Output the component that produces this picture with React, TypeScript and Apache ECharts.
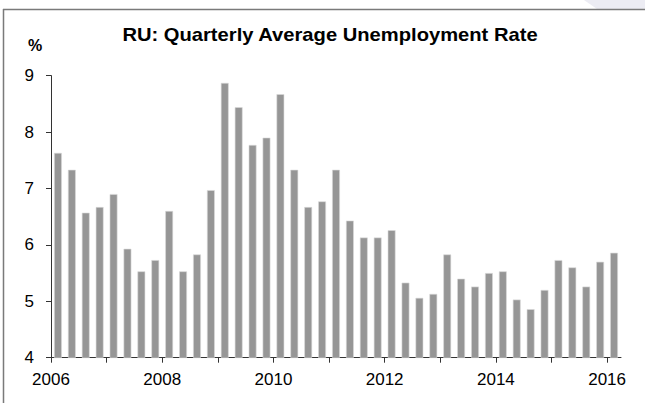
import React, { useEffect, useRef } from "react";
import * as echarts from "echarts";

const quarters: string[] = [];
const years = [2006, 2007, 2008, 2009, 2010, 2011, 2012, 2013, 2014, 2015, 2016];
years.forEach((y) => {
  ["Q1", "Q2", "Q3", "Q4"].forEach((q) => {
    if (y < 2016 || q === "Q1") quarters.push(`${y}${q}`);
  });
});
const labelYears = [2006, 2008, 2010, 2012, 2014, 2016];

const unemployment = [
  7.63, 7.33, 6.57, 6.67,
  6.9, 5.93, 5.53, 5.73,
  6.6, 5.53, 5.83, 6.97,
  8.87, 8.44, 7.77, 7.9,
  8.67, 7.33, 6.67, 6.77,
  7.33, 6.43, 6.13, 6.13,
  6.26, 5.33, 5.06, 5.13,
  5.83, 5.4, 5.26, 5.5,
  5.53, 5.03, 4.86, 5.2,
  5.73, 5.6, 5.26, 5.7,
  5.86,
];

const yTicks = [4, 5, 6, 7, 8, 9];
const titleText = "RU: Quarterly Average Unemployment Rate";
const unitText = "%";

export default function App() {
  const ref = useRef<HTMLDivElement>(null);
  useEffect(() => {
    if (!ref.current) return;
    const chart = echarts.init(ref.current, null, { renderer: "svg" });
    const font = "'Liberation Sans', Arial, sans-serif";
    chart.setOption({
      animation: false,
      backgroundColor: "#ffffff",
      textStyle: { fontFamily: font },
      grid: { left: 51, right: 24, top: 75.6, bottom: 45.3, containLabel: false },
      xAxis: [
        {
          type: "category",
          data: quarters,
          boundaryGap: true,
          show: false,
        },
        {
          type: "value",
          min: years[0],
          max: years[years.length - 1] + 0.25,
          position: "bottom",
          axisLine: { show: true, onZero: false, lineStyle: { color: "#333333", width: 1 } },
          axisTick: { show: true, length: 5, customValues: years, lineStyle: { color: "#333333" } },
          axisLabel: {
            customValues: labelYears,
            formatter: (v: number) => String(v),
            color: "#000000",
            fontSize: 17,
            margin: 13,
            fontFamily: font,
          },
          splitLine: { show: false },
        },
      ],
      yAxis: {
        type: "value",
        min: yTicks[0],
        max: yTicks[yTicks.length - 1],
        interval: 1,
        axisLine: { show: true, lineStyle: { color: "#333333", width: 1 } },
        axisTick: { show: true, length: 5, lineStyle: { color: "#333333" } },
        axisLabel: { color: "#000000", fontSize: 17, margin: 17, fontFamily: font },
        splitLine: { show: false },
      },
      series: [
        {
          type: "bar",
          xAxisIndex: 0,
          data: unemployment,
          barWidth: "56%",
          itemStyle: { color: "#969696", borderColor: "#dadada", borderWidth: 0.6 },
        },
      ],
      graphic: [
        {
          type: "polygon",
          shape: { points: [[584, 0], [645, 0], [645, 9], [597, 9]] },
          style: { fill: "#ececf3" },
          silent: true,
        },
        {
          type: "line",
          shape: { x1: 3, y1: 9.5, x2: 645, y2: 9.5 },
          style: { stroke: "#7a7a7a", lineWidth: 1.5 },
          silent: true,
        },
        {
          type: "line",
          shape: { x1: 3.5, y1: 9, x2: 3.5, y2: 403 },
          style: { stroke: "#7a7a7a", lineWidth: 1.5 },
          silent: true,
        },
        {
          type: "text",
          x: 330,
          y: 35,
          scaleX: 1.12,
          style: {
            text: titleText,
            fontSize: 18,
            fontWeight: "bold",
            fontFamily: font,
            fill: "#000000",
            textAlign: "center",
            textVerticalAlign: "middle",
          },
          silent: true,
        },
        {
          type: "text",
          x: 35,
          y: 45,
          style: {
            text: unitText,
            fontSize: 16,
            fontWeight: "bold",
            fontFamily: font,
            fill: "#000000",
            textAlign: "center",
            textVerticalAlign: "middle",
          },
          silent: true,
        },
      ],
    });
    return () => chart.dispose();
  }, []);
  return (
    <div
      ref={ref}
      style={{ position: "absolute", left: 0, top: 0, width: 645, height: 403 }}
    />
  );
}
